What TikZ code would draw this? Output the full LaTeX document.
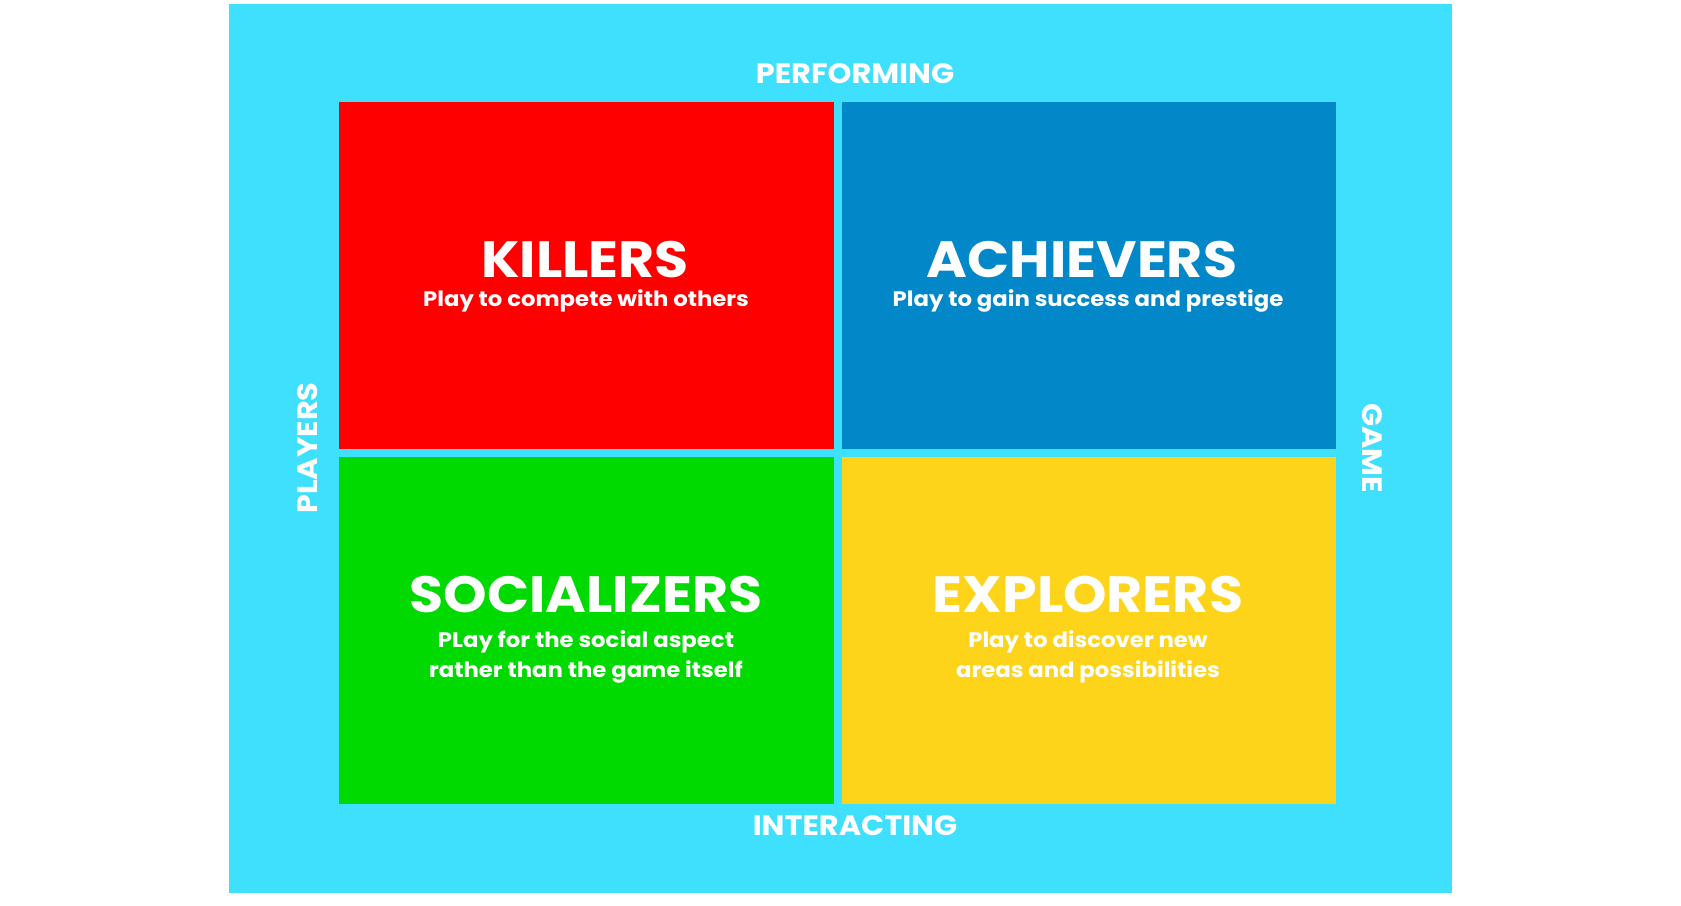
\documentclass[tikz,border=0pt]{standalone}
\usepackage{fontspec}
\setmainfont{Poppins}
\newfontfamily\widefont{Poppins}[FakeStretch=1.085]
\definecolor{bgcyan}{HTML}{3FE0FE}
\definecolor{qred}{HTML}{FF0000}
\definecolor{qblue}{HTML}{0288C9}
\definecolor{qgreen}{HTML}{00DA00}
\definecolor{qyellow}{HTML}{FED41A}
\begin{document}
\begin{tikzpicture}[x=1pt,y=-1pt,
  quad/.style={draw=none,inner sep=0pt,anchor=north west},
  title/.style={text=white,font=\widefont\fontsize{51}{51}\selectfont\bfseries,anchor=base,inner sep=0pt},
  sub/.style={text=white,font=\widefont\fontsize{21}{30}\selectfont\bfseries,anchor=base,inner sep=0pt,align=center},
  axis/.style={text=white,font=\widefont\fontsize{28}{28}\selectfont\bfseries,inner sep=0pt}]
\useasboundingbox (0,0) rectangle (1681,905);
\fill[bgcyan] (229,4) rectangle (1452,893);
\node[quad,fill=qred,minimum width=495pt,minimum height=347pt] (kq) at (339,102) {};
\node[quad,fill=qblue,minimum width=494pt,minimum height=347pt] (aq) at (842,102) {};
\node[quad,fill=qgreen,minimum width=495pt,minimum height=347pt] (sq) at (339,457) {};
\node[quad,fill=qyellow,minimum width=494pt,minimum height=347pt] (eq) at (842,457) {};
\node[title] (kt) at (585,277) {KILLERS};
\node[sub] (ks) at (586,306) {Play to compete with others};
\node[title] (at) at (1082,277) {ACHIEVERS};
\node[sub] (as) at (1088,306) {Play to gain success and prestige};
\node[title] (st) at (586,612) {SOCIALIZERS};
\node[sub] (ss) at (586,677) {PLay for the social aspect\\rather than the game itself};
\node[title] (et) at (1088,612) {EXPLORERS};
\node[sub] (es) at (1088,677) {Play to discover new\\areas and possibilities};
\node[axis] (perf) at (855,74) {PERFORMING};
\node[axis] (inter) at (855,826) {INTERACTING};
\node[axis,rotate=90] (play) at (308,448) {PLAYERS};
\node[axis,rotate=-90] (game) at (1372,448) {GAME};
\end{tikzpicture}
\end{document}
